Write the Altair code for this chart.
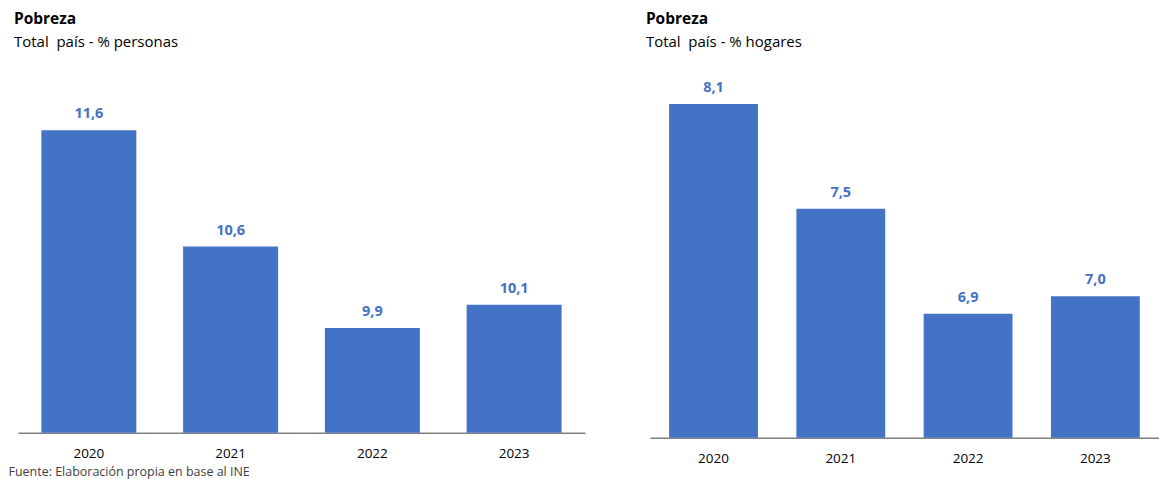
import altair as alt
import pandas as pd

years = ["2020", "2021", "2022", "2023"]
personas = [11.6, 10.6, 9.9, 10.1]
hogares = [8.1, 7.5, 6.9, 7.0]

BLUE = "#4472C4"
FONT = "Open Sans"

def fmt(v):
    return f"{v:.1f}".replace(".", ",")

df_p = pd.DataFrame({"year": years, "value": personas, "label": [fmt(v) for v in personas]})
df_h = pd.DataFrame({"year": years, "value": hogares, "label": [fmt(v) for v in hogares]})

PLOT_TOP = 63  # page y of plot top


def panel(df, subtitle, width, height, base, px_per_unit, pad, source=None):
    top = base + height / px_per_unit
    xaxis = dict(
        labelFontSize=13.5, labelColor="#000000", labelFont=FONT, labelPadding=14,
        domainColor="#404040", domainWidth=1, ticks=False, labelAngle=0,
    )
    if source:
        xaxis.update(
            title=source, titleFontSize=12.5, titleFont=FONT, titleFontWeight="normal",
            titleColor="#404040", titleAnchor="start", titleAlign="left",
            titleBaseline="middle", titleX=-10, titleY=39,
        )
    else:
        xaxis.update(title=None)
    x = alt.X("year:N", sort=years, axis=alt.Axis(**xaxis),
              scale=alt.Scale(paddingInner=pad, paddingOuter=pad / 2))
    y = alt.Y("value:Q", axis=None, scale=alt.Scale(domain=[base, top], nice=False, zero=False))
    bars = alt.Chart(df).mark_bar(color=BLUE).encode(x=x, y=y, y2=alt.Y2(datum=base))
    labels = alt.Chart(df).mark_text(
        color=BLUE, font=FONT, fontSize=14.5, fontWeight="bold", baseline="middle", dy=-16
    ).encode(x=alt.X("year:N", sort=years), y=alt.Y("value:Q"), text="label:N")
    return alt.layer(bars, labels).properties(
        width=width, height=height,
        title=alt.TitleParams(
            text="Pobreza", subtitle=subtitle, anchor="start", frame="group", dx=-4,
            fontSize=15.5, fontWeight="bold", font=FONT, color="#000000",
            subtitleFontSize=15, subtitleFont=FONT, subtitleColor="#000000",
            subtitlePadding=8, offset=12,
        ),
    )

left = panel(df_p, "Total\u00a0 país - % personas", 568, 434 - PLOT_TOP, 9.0, 116.5, 0.33,
             source="Fuente: Elaboración propia en base al INE")
right = panel(df_h, "Total\u00a0 país - % hogares", 510, 439 - PLOT_TOP, 6.19, 175.0, 0.302)

chart = alt.hconcat(left, right, spacing=61).properties(
    padding={"top": 3, "bottom": 2, "left": 0, "right": 0}
).configure_view(stroke=None)

chart.save("out.html", embed_options={"renderer": "svg", "actions": False})
